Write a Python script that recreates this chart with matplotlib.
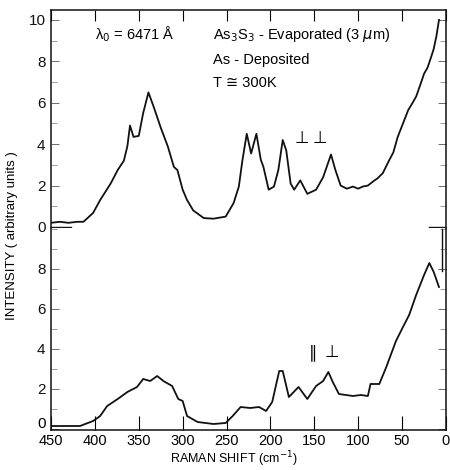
import matplotlib
matplotlib.use("Agg")
import matplotlib.pyplot as plt
import matplotlib.transforms as mtransforms
from matplotlib.ticker import MultipleLocator

# ---- data (Raman shift in cm^-1, intensity arb. units) ----
top_shift = [450, 440, 430, 420, 413, 402, 394, 382, 374, 367, 363, 360, 356, 350,
             345, 339, 333, 325, 317, 310, 306, 300, 295, 288, 276, 265, 251, 242,
             236, 232, 227, 222, 216, 211, 208, 202, 196, 191, 186, 182, 177, 173,
             166, 158, 148, 140, 131, 126, 120, 113, 106, 100, 95, 89, 83, 78, 72,
             65, 60, 55, 49, 43, 38, 34, 29, 25, 21, 17, 14, 11, 8]
top_int = [0.2, 0.25, 0.2, 0.25, 0.25, 0.68, 1.3, 2.1, 2.75, 3.2, 3.9, 4.9, 4.35, 4.4,
           5.5, 6.5, 5.8, 4.8, 3.9, 2.9, 2.75, 1.8, 1.3, 0.8, 0.43, 0.4, 0.5, 1.15,
           1.95, 3.2, 4.5, 3.55, 4.5, 3.25, 2.9, 1.8, 1.95, 2.75, 4.2, 3.7, 2.1, 1.8,
           2.25, 1.6, 1.8, 2.4, 3.5, 2.75, 2.0, 1.85, 1.95, 1.85, 1.95, 2.0, 2.2, 2.35, 2.6,
           3.2, 3.6, 4.35, 5.0, 5.65, 6.0, 6.3, 6.9, 7.4, 7.7, 8.2, 8.6, 9.2, 10.0]

bot_shift = [450, 435, 417, 402, 394, 386, 374, 363, 352, 345, 337, 329, 322, 312,
             305, 300, 295, 283, 265, 251, 243, 234, 223, 213, 205, 198, 190, 186,
             179, 168, 158, 148, 140, 134, 129, 122, 114, 106, 97, 89, 86, 76, 68,
             57, 49, 42, 34, 25, 19, 14, 8]
bot_int = [0.15, 0.15, 0.15, 0.4, 0.65, 1.15, 1.5, 1.85, 2.1, 2.5, 2.4, 2.65, 2.4, 2.15,
           1.5, 1.4, 0.65, 0.35, 0.25, 0.3, 0.65, 1.1, 1.05, 1.1, 0.9, 1.35, 2.9, 2.9,
           1.6, 2.1, 1.5, 2.15, 2.4, 2.85, 2.35, 1.75, 1.7, 1.65, 1.7, 1.65, 2.25, 2.25, 3.1,
           4.4, 5.1, 5.7, 6.7, 7.7, 8.3, 7.85, 7.1]

# end-of-scan marker and zero-level marks
marker_shift = [5, 5]
marker_int = [7.9, 10.0]
zero_left = [450, 427]
zero_right = [19, 0]

xticks = [450, 400, 350, 300, 250, 200, 150, 100, 50, 0]
top_yticks = [0, 2, 4, 6, 8, 10]
bot_yticks = [0, 2, 4, 6, 8]

plt.rcParams['font.family'] = ['Liberation Sans', 'DejaVu Sans']
plt.rcParams['font.size'] = 10.5

fig = plt.figure(figsize=(4.5, 4.7), dpi=100)
left, right = 51 / 450, 446 / 450
ax_top = fig.add_axes([left, 1 - 228 / 470, right - left, 218 / 470])
ax_bot = fig.add_axes([left, 1 - 430 / 470, right - left, 202 / 470], sharex=ax_top)

lc = '#111111'
ax_top.plot(top_shift, top_int, color=lc, lw=1.3)
ax_top.plot(zero_left, [0, 0], color=lc, lw=1.0)
ax_top.plot(zero_right, [0, 0], color=lc, lw=1.0)
ax_bot.plot(bot_shift, bot_int, color=lc, lw=1.3)
ax_bot.plot(marker_shift, marker_int, color=lc, lw=1.0)

ax_top.set_xlim(450, 0)
ax_top.set_ylim(-0.05, 10.48)
ax_bot.set_ylim(-0.05, 10.05)

for ax in (ax_top, ax_bot):
    for s in ax.spines.values():
        s.set_linewidth(1.1)
        s.set_color(lc)
    ax.yaxis.set_major_locator(MultipleLocator(2))
    ax.yaxis.set_minor_locator(MultipleLocator(1))
    ax.tick_params(axis='y', which='major', direction='in', length=6, width=0.6,
                   left=True, right=True, colors='#555555', labelcolor=lc, labelsize=11, pad=4)
    ax.tick_params(axis='y', which='minor', direction='in', length=4, width=0.5,
                   left=True, right=True, colors='#777777')
    ax.set_xticks(xticks)

ax_top.spines['bottom'].set_visible(False)
ax_bot.spines['top'].set_visible(False)
ax_top.set_yticks(top_yticks)
ax_bot.set_yticks(bot_yticks)
# bottom "0" drawn a bit higher so it clears the "450" below it
ax_bot.set_yticklabels([''] + [str(v) for v in bot_yticks[1:]])
zero_tr = mtransforms.blended_transform_factory(ax_bot.transAxes, ax_bot.transData)
ax_bot.text(-0.012, 0.25, '0', transform=zero_tr, ha='right', va='center', fontsize=11)

ax_top.tick_params(axis='x', direction='in', length=8, width=0.8, top=True, bottom=False,
                   labelbottom=False)
ax_bot.tick_params(axis='x', direction='in', length=10, width=0.8, top=False, bottom=True,
                   labelsize=10.5, pad=3)

# annotations
fig.text(95 / 450, 1 - 39 / 470, 'λ$_0$ = 6471 Å', fontsize=10.5, va='baseline')
fig.text(213 / 450, 1 - 39 / 470, 'As$_3$S$_3$ - Evaporated (3 $\\mu$m)', fontsize=10.5, va='baseline')
fig.text(213 / 450, 1 - 64 / 470, 'As - Deposited', fontsize=10.5, va='baseline')
fig.text(213 / 450, 1 - 87 / 470, 'T ≅ 300K', fontsize=10.5, va='baseline')

fig.text(302 / 450, 1 - 138 / 470, '⊥', fontsize=12, ha='center', va='center',
         family=['DejaVu Sans'])
fig.text(320 / 450, 1 - 138 / 470, '⊥', fontsize=12, ha='center', va='center',
         family=['DejaVu Sans'])
fig.text(313 / 450, 1 - 352 / 470, '∥', fontsize=12, ha='center', va='center',
         family=['DejaVu Sans'])
fig.text(332 / 450, 1 - 352 / 470, '⊥', fontsize=12, ha='center', va='center',
         family=['DejaVu Sans'])

fig.text(12 / 450, 1 - 236 / 470, 'INTENSITY ( arbitrary units )', rotation=90,
         ha='center', va='center', fontsize=9.5)
fig.text(234 / 450, 1 / 470, 'RAMAN SHIFT (cm$^{-1}$)', ha='center', va='bottom',
         fontsize=9)

fig.savefig('out.png', dpi=100)
